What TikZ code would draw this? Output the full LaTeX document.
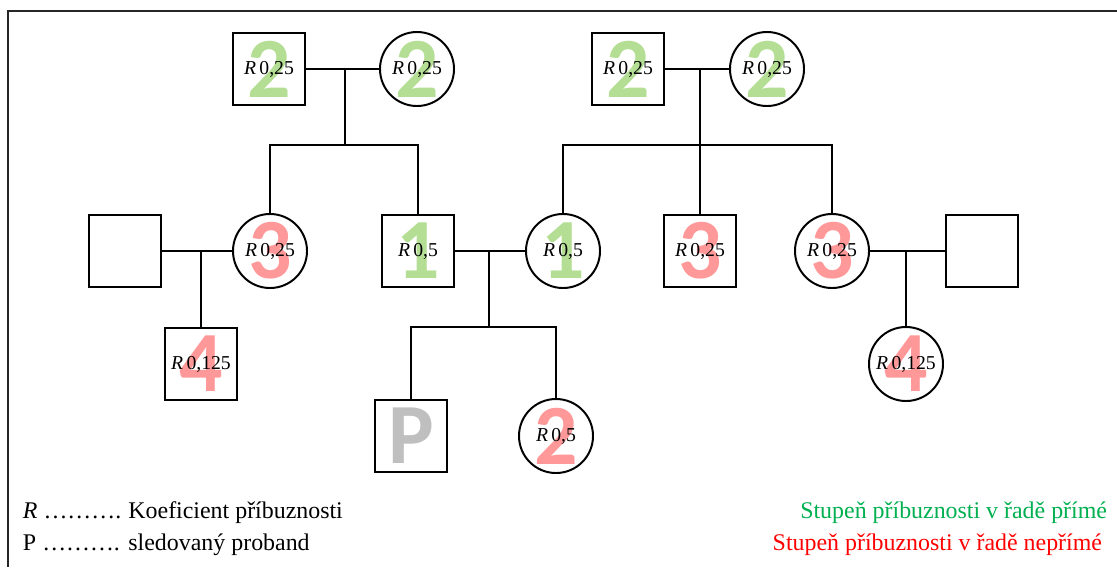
\documentclass[tikz,border=0pt]{standalone}
\usepackage{fontspec}
\setmainfont{Liberation Serif}
\newfontfamily\cislofont{Carlito}
\usetikzlibrary{backgrounds}

\definecolor{primy}{RGB}{180,222,148}
\definecolor{neprimy}{RGB}{255,153,153}
\definecolor{proband}{RGB}{191,191,191}
\definecolor{legzel}{RGB}{0,176,80}

\tikzset{
  muz/.style={draw, rectangle, minimum size=1.8cm, inner sep=0pt, font=\fontsize{14}{14}\selectfont},
  zena/.style={draw, circle, minimum size=1.85cm, inner sep=0pt, font=\fontsize{14}{14}\selectfont},
  stupen/.style={inner sep=0pt, font=\cislofont\fontsize{61}{61}\bfseries\selectfont},
  legenda/.style={inner sep=0pt, font=\fontsize{17}{20}\selectfont},
}

\begin{document}
\begin{tikzpicture}[x=0.025cm, y=-0.025cm, line width=1.4pt]
  \useasboundingbox (0,0) rectangle (1117,567);
  \draw[line width=1pt, black!85] (1117,11) -- (8,11) -- (8,567);

  % prarodice
  \node[muz] at (269,69) (dedL) {\textit{R}\,0,25};
  \node[zena] at (417,69) (babL) {\textit{R}\,0,25};
  \node[muz] at (628,69) (dedR) {\textit{R}\,0,25};
  \node[zena] at (767,69) (babR) {\textit{R}\,0,25};
  % rodice a jejich sourozenci
  \node[muz] at (125,251) (manzL) {};
  \node[zena] at (270,251) (tetaL) {\textit{R}\,0,25};
  \node[muz] at (418,251) (otec) {\textit{R}\,0,5};
  \node[zena] at (563,251) (matka) {\textit{R}\,0,5};
  \node[muz] at (700,251) (stryc) {\textit{R}\,0,25};
  \node[zena] at (832,251) (tetaR) {\textit{R}\,0,25};
  \node[muz] at (982,251) (manzR) {};
  % deti
  \node[muz] at (201,364) (bratrL) {\textit{R}\,0,125};
  \node[zena] at (906,364) (sestrR) {\textit{R}\,0,125};
  \node[muz] at (411,436) (prob) {};
  \node[zena] at (556,436) (sestra) {\textit{R}\,0,5};

  \coordinate (jL) at (345,69);  \coordinate (kL) at (345,145);
  \coordinate (jR) at (700,69);  \coordinate (kR) at (700,145);
  \coordinate (j1) at (201,251);
  \coordinate (j2) at (489,251); \coordinate (k2) at (489,327);
  \coordinate (j3) at (906,251);

  \draw (dedL) -- (babL);
  \draw (jL) -- (kL);
  \draw (tetaL) |- (kL) -| (otec);
  \draw (dedR) -- (babR);
  \draw (jR) -- (stryc);
  \draw (matka) |- (kR) -| (tetaR);
  \draw (manzL) -- (tetaL);
  \draw (j1) -- (bratrL);
  \draw (otec) -- (matka);
  \draw (j2) -- (k2);
  \draw (prob) |- (k2) -| (sestra);
  \draw (tetaR) -- (manzR);
  \draw (j3) -- (sestrR);

  % stupne pribuznosti
  \begin{scope}[on background layer]
    \foreach \n/\c/\d in {dedL/primy/2, babL/primy/2, dedR/primy/2, babR/primy/2,
        tetaL/neprimy/3, otec/primy/1, matka/primy/1, stryc/neprimy/3,
        tetaR/neprimy/3, bratrL/neprimy/4, sestrR/neprimy/4,
        prob/proband/P, sestra/neprimy/2}
      \node[stupen, text=\c] at (\n) {\d};
  \end{scope}

  % legenda
  \node[legenda, anchor=base west] (legR) at (22,518) {\makebox[75pt][l]{\textit{R} ……….}Koeficient příbuznosti};
  \node[legenda, anchor=base west] (legP) at (22,550) {\makebox[75pt][l]{P ……….}sledovaný proband};
  \node[legenda, anchor=base east, text=legzel] (legPrim) at (1108,518) {Stupeň příbuznosti v řadě přímé};
  \node[legenda, anchor=base east, text=red] (legNeprim) at (1103,550) {Stupeň příbuznosti v řadě nepřímé};
\end{tikzpicture}
\end{document}
